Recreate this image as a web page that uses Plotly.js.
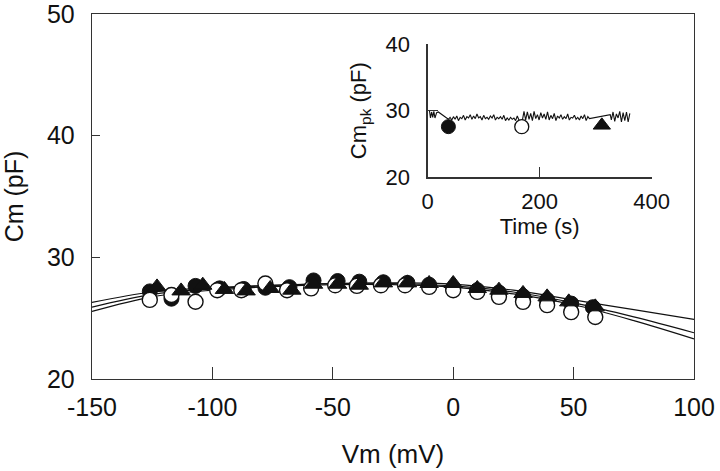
<!DOCTYPE html>
<html>
<head>
<meta charset="utf-8">
<script src="https://cdn.plot.ly/plotly-3.0.1.min.js"></script>
<style>html,body{margin:0;padding:0;background:#fff;}#chart{width:720px;height:471px;}</style>
</head>
<body>
<div id="chart"></div>
<script>
// ---- Main panel: Cm vs Vm ----
const filledVm = [-126, -117, -107, -97, -87, -78, -68, -58, -48, -39, -29, -19, -10, 0, 10, 19, 29, 39, 49, 58];
const filledCm = [27.2, 26.6, 27.65, 27.45, 27.4, 27.5, 27.55, 28.1, 28.05, 28.0, 27.95, 27.9, 27.75, 27.4, 27.3, 27.1, 26.8, 26.5, 26.2, 25.9];

const openVm = [-126, -117, -107, -98, -88, -78, -69, -59, -49, -40, -30, -20, -10, 0, 10, 19, 29, 39, 49, 59];
const openCm = [26.5, 26.9, 26.35, 27.3, 27.3, 27.85, 27.3, 27.45, 27.7, 27.65, 27.7, 27.7, 27.57, 27.3, 27.16, 26.75, 26.34, 26.07, 25.5, 25.1];

const triVm = [-123, -113, -104, -95, -86, -76, -67, -58, -48, -39, -29, -19, -10, 0, 10, 19, 29, 39, 48, 59];
const triCm = [27.57, 27.24, 27.71, 27.36, 27.24, 27.44, 27.3, 27.79, 27.79, 27.71, 27.9, 27.9, 27.85, 27.85, 27.44, 27.3, 27.03, 26.75, 26.34, 25.93];

// fitted curves
const fitVm = [-150, -125, -100, -75, -50, -25, 0, 25, 50, 75, 100];
const fitTri = [26.3, 27.15, 27.5, 27.7, 27.85, 27.9, 27.8, 27.3, 26.5, 25.7, 24.9];
const fitFilled = [25.9, 26.95, 27.4, 27.7, 27.85, 27.85, 27.65, 27.15, 26.25, 25.1, 23.8];
const fitOpen = [25.55, 26.75, 27.3, 27.6, 27.75, 27.75, 27.55, 27.0, 26.1, 24.8, 23.3];

const xTickVals = [-150, -100, -50, 0, 50, 100];
const xTickText = ['-150', '-100', '-50', '0', '50', '100'];
const yTickVals = [20, 30, 40, 50];

// ---- Inset: Cm_pk vs time ----
const traceT = [3, 5, 7, 9, 11, 13, 16, 19,
  37, 40, 43, 46, 49, 52, 55, 58, 61, 64, 67, 70, 73, 76, 79, 82, 85, 88, 91, 94, 97, 100, 103, 106, 109, 112, 115, 118, 121, 124, 127, 130, 133, 136, 139, 142, 145, 148, 151, 154, 157, 160, 163,
  166, 169,
  172, 175, 178, 181, 184, 187, 190, 193, 196, 199, 202, 205, 208, 211, 214, 217, 220, 223, 226, 229, 232, 235, 238, 241, 244, 247, 250, 253, 256, 259, 262, 265, 268, 271, 274, 277, 280, 283, 286, 289,
  326,
  328, 331, 334, 337, 340, 343, 346, 349, 352, 355, 358, 361];
const traceCm = [30.1, 28.9, 29.8, 29.0, 29.9, 28.9, 29.7, 29.8,
  28.7, 29.0, 28.6, 29.1, 28.7, 29.2, 28.5, 29.0, 28.8, 29.3, 28.6, 29.1, 28.9, 29.4, 28.7, 29.2, 28.8, 29.5, 28.9, 29.1, 28.6, 29.3, 28.8, 29.0, 28.7, 29.2, 28.9, 29.4, 28.6, 29.0, 28.8, 29.1, 28.7, 29.3, 28.5, 28.9, 28.6, 29.0, 28.7, 28.9, 28.5, 29.2, 28.6,
  28.3, 28.5,
  29.9, 28.6, 29.8, 28.7, 29.6, 28.5, 29.9, 28.8, 29.4, 28.6, 29.7, 28.9, 29.5, 28.7, 29.8, 28.6, 29.3, 28.8, 29.6, 28.5, 29.2, 28.9, 29.4, 28.7, 29.1, 28.8, 29.5, 28.6, 29.0, 28.9, 29.3, 28.7, 29.0, 28.6, 29.2, 28.8, 29.4, 28.5, 29.1, 28.8,
  29.4,
  28.6, 29.8, 28.4, 29.5, 28.9, 29.9, 28.3, 29.7, 28.5, 29.8, 28.3, 29.6];

const pkFilledT = [37], pkFilledCm = [27.6];
const pkOpenT = [168], pkOpenCm = [27.6];
const pkTriT = [311], pkTriCm = [27.8];

const insetXTicks = [0, 200, 400];
const insetYTicks = [20, 30, 40];

const FONT = 'Liberation Sans, Arial, sans-serif';
const INK = '#111';
const lineStyle = {color: INK, width: 1.2};

const data = [
  {x: fitVm, y: fitTri, mode: 'lines', line: Object.assign({shape: 'spline'}, lineStyle), xaxis: 'x', yaxis: 'y', hoverinfo: 'skip'},
  {x: fitVm, y: fitFilled, mode: 'lines', line: Object.assign({shape: 'spline'}, lineStyle), xaxis: 'x', yaxis: 'y', hoverinfo: 'skip'},
  {x: fitVm, y: fitOpen, mode: 'lines', line: Object.assign({shape: 'spline'}, lineStyle), xaxis: 'x', yaxis: 'y', hoverinfo: 'skip'},
  {x: filledVm, y: filledCm, mode: 'markers', marker: {symbol: 'circle', size: 15, color: INK, line: {color: INK, width: 1}}, xaxis: 'x', yaxis: 'y'},
  {x: openVm, y: openCm, mode: 'markers', marker: {symbol: 'circle', size: 15, color: '#fff', line: {color: INK, width: 1.4}}, xaxis: 'x', yaxis: 'y'},
  {x: triVm, y: triCm, mode: 'markers', marker: {symbol: 'triangle-up', size: 16, color: INK, line: {color: INK, width: 1}}, xaxis: 'x', yaxis: 'y'},
  // inset
  {x: traceT, y: traceCm, mode: 'lines', line: {color: INK, width: 1.1}, xaxis: 'x2', yaxis: 'y2'},
  {x: pkFilledT, y: pkFilledCm, mode: 'markers', marker: {symbol: 'circle', size: 14, color: INK, line: {color: INK, width: 1}}, xaxis: 'x2', yaxis: 'y2'},
  {x: pkOpenT, y: pkOpenCm, mode: 'markers', marker: {symbol: 'circle', size: 14, color: '#fff', line: {color: INK, width: 1.3}}, xaxis: 'x2', yaxis: 'y2'},
  {x: pkTriT, y: pkTriCm, mode: 'markers', marker: {symbol: 'triangle-up', size: 15, color: INK, line: {color: INK, width: 1}}, xaxis: 'x2', yaxis: 'y2'}
];

const layout = {
  width: 720, height: 471,
  margin: {l: 92, r: 26, t: 14, b: 92},
  paper_bgcolor: '#fff', plot_bgcolor: '#fff',
  showlegend: false,
  font: {family: FONT, color: INK},
  xaxis: {
    domain: [0, 1], range: [-150, 100], tickvals: xTickVals, ticktext: xTickText,
    ticks: 'inside', ticklen: 12, tickwidth: 1.2, tickcolor: '#333',
    showline: true, linecolor: '#333', linewidth: 1.3, mirror: true,
    showgrid: false, zeroline: false,
    tickfont: {size: 25, family: FONT, color: INK},
    ticklabelstandoff: 6, ticklabeloverflow: 'allow',
    title: {text: 'Vm (mV)', font: {size: 26, family: FONT, color: INK}, standoff: 24},
    anchor: 'y', fixedrange: true
  },
  yaxis: {
    domain: [0, 1], range: [20, 50], tickvals: yTickVals,
    ticks: 'inside', ticklen: 8, tickwidth: 1.2, tickcolor: '#333',
    showline: true, linecolor: '#333', linewidth: 1.3, mirror: true,
    showgrid: false, zeroline: false,
    tickfont: {size: 25, family: FONT, color: INK},
    ticklabelstandoff: 11, ticklabeloverflow: 'allow',
    title: {text: 'Cm (pF)', font: {size: 25, family: FONT, color: INK}, standoff: 20},
    anchor: 'x', fixedrange: true
  },
  xaxis2: {
    domain: [0.5576, 0.9297], range: [0, 400], tickvals: insetXTicks,
    ticks: 'inside', ticklen: 10, tickwidth: 1.2, tickcolor: '#333',
    showline: true, linecolor: '#333', linewidth: 1.2, mirror: false,
    showgrid: false, zeroline: false,
    tickfont: {size: 22, family: FONT, color: INK},
    ticklabelstandoff: 4, ticklabeloverflow: 'allow',
    title: {text: 'Time (s)', font: {size: 22, family: FONT, color: INK}, standoff: 5},
    anchor: 'y2', fixedrange: true
  },
  yaxis2: {
    domain: [0.5526, 0.9178], range: [20, 40], tickvals: insetYTicks,
    ticks: 'inside', ticklen: 10, tickwidth: 1.2, tickcolor: '#333',
    showline: true, linecolor: '#333', linewidth: 1.2, mirror: false,
    showgrid: false, zeroline: false,
    tickfont: {size: 22, family: FONT, color: INK},
    ticklabelstandoff: 12, ticklabeloverflow: 'allow',
    title: {text: 'Cm<sub>pk</sub> (pF)', font: {size: 22, family: FONT, color: INK}, standoff: 12},
    anchor: 'x2', fixedrange: true
  }
};

Plotly.newPlot('chart', data, layout, {staticPlot: true, displayModeBar: false});
</script>
</body>
</html>
